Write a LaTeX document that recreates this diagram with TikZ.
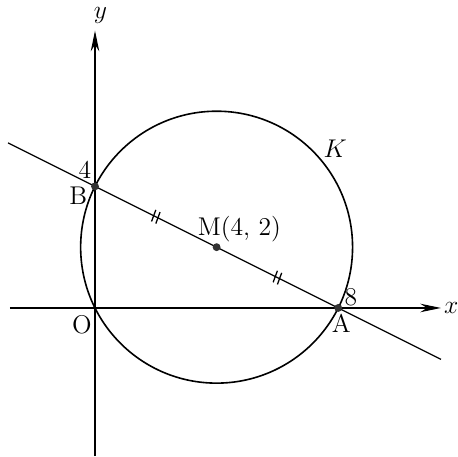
\documentclass[tikz,border=0pt]{standalone}
\usepackage{tikz}
\usetikzlibrary{arrows.meta,positioning,calc}
\tikzset{
  axisline/.style={line width=0.5pt,-{Stealth[length=3.4mm,width=1.4mm]}},
  curveline/.style={line width=0.75pt},
  chordline/.style={line width=0.6pt},
  ptdot/.style={circle,fill=black!80,inner sep=0pt,minimum size=1.3mm},
  lbl/.style={font=\large,inner sep=1pt},
  tickmark/.style={line width=0.6pt},
}
\begin{document}
\begin{tikzpicture}[x=0.5cm,y=0.5cm]
  \useasboundingbox (-3.125,-4.87) rectangle (11.94,10.13);
  % axes
  \coordinate (O) at (0,0);
  \coordinate (xs) at (-2.8,0);
  \coordinate (xe) at (11.38,0);
  \coordinate (ys) at (0,-4.87);
  \coordinate (ye) at (0,9.12);
  \draw[axisline] (xs) -- (xe);
  \draw[axisline] (ys) -- (ye);
  \node[lbl] (xlab) at (11.72,0) {$x$};
  \node[lbl] (ylab) at (0.18,9.62) {$y$};
  % circle K
  \coordinate (M) at (4,2);
  \draw[curveline] (M) circle ({sqrt(20)});
  \node[lbl] (klab) at (7.9,5.25) {$K$};
  % line AB
  \coordinate (A) at (8,0);
  \coordinate (B) at (0,4);
  \coordinate (ls) at (-2.86,5.43);
  \coordinate (le) at (11.38,-1.69);
  \draw[chordline] (ls) -- (le);
  % equal marks
  \foreach \px/\py in {2/3,6/1}{
    \foreach \dx/\dy in {-0.07/0.035,0.07/-0.035}{
      \draw[tickmark] (\px+\dx+0.07,\py+\dy+0.19) -- (\px+\dx-0.07,\py+\dy-0.19);
    }
  }
  % points
  \node[ptdot] (dM) at (M) {};
  \node[ptdot] (dA) at (A) {};
  \node[ptdot] (dB) at (B) {};
  \node[lbl] (mlab) at (4.75,2.6) {M(4,\ 2)};
  \node[lbl] (blab) at (-0.55,3.68) {B};
  \node[lbl] (fourlab) at (-0.33,4.55) {4};
  \node[lbl] (olab) at (-0.43,-0.56) {O};
  \node[lbl] (alab) at (8.1,-0.5) {A};
  \node[lbl] (eightlab) at (8.42,0.36) {8};
\end{tikzpicture}
\end{document}
